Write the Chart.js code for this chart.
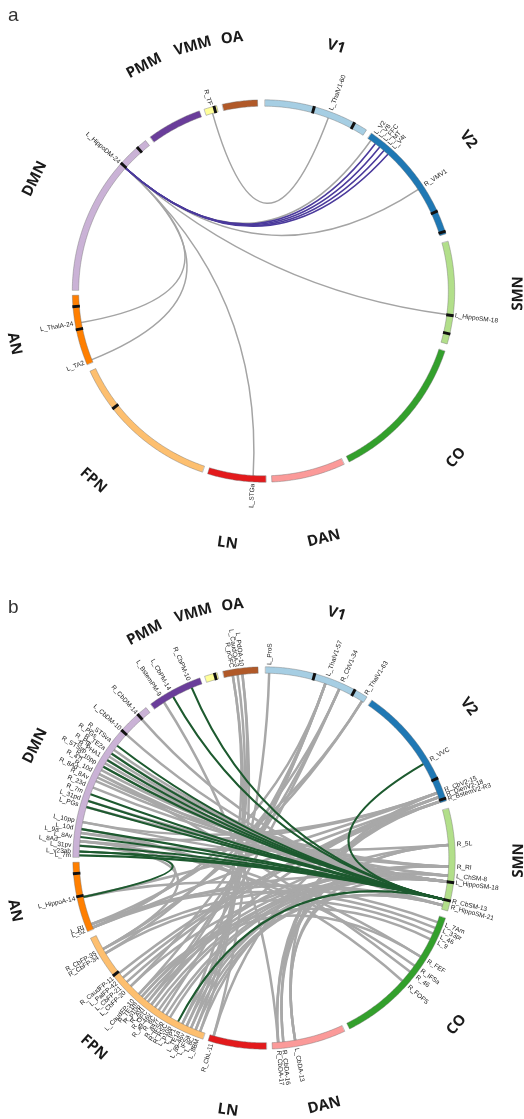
<!DOCTYPE html>
<html><head><meta charset="utf-8">
<script src="https://cdn.jsdelivr.net/npm/chart.js@4.4.1/dist/chart.umd.min.js"></script>
<style>
html,body{margin:0;padding:0;background:#fff;}
#wrap{position:relative;width:524px;height:1119px;overflow:hidden;}
canvas{position:absolute;left:0;}
</style></head><body>
<div id="wrap">
<canvas id="ca" width="524" height="560" style="top:0px"></canvas>
<canvas id="cb" width="524" height="559" style="top:560px"></canvas>
</div>
<script>
// ---------- DATA ----------
const NETWORKS  = ['V1','V2','SMN','CO','DAN','LN','FPN','AN','DMN','PMM','VMM','OA'];
const NET_START = [0.5, 34.4, 75.0, 108.4, 155.1, 179.3, 198.7, 247.4, 270.3, 323.7, 342.0, 347.6];
const NET_END   = [32.6, 72.6, 106.1, 153.4, 177.5, 197.0, 245.2, 268.7, 321.9, 340.4, 345.8, 358.2];
const MARKER_ANGLES = [15.4, 28.4, 65.3, 71.8, 97.4, 103.0, 232.0, 258.3, 265.3, 311.9, 318.7, 345.0];

// panel a
const A_NODES  = ['L_HippoDM-24','R_TF','L_ThalV1-60','L_V2','L_V8','L_FFC','L_MT','L_V4t','R_VMV1','L_HippoSM-18','L_STGa','L_ThalA-24','L_TA2'];
const A_ANGLES = [311.7, 344.0, 20.5, 35.5, 37.2, 38.9, 40.6, 42.3, 56.7, 97.3, 183.2, 260.2, 248.2];
const A_LINKS_GRAY = [
  ['R_TF','L_ThalV1-60'],['L_HippoDM-24','L_V2'],
  ['L_HippoDM-24','R_VMV1'],['L_HippoDM-24','L_HippoSM-18'],['L_HippoDM-24','L_STGa'],
  ['L_HippoDM-24','L_ThalA-24'],['L_HippoDM-24','L_TA2']];
const A_LINKS_HL = [['L_HippoDM-24','L_V8'],['L_HippoDM-24','L_FFC'],['L_HippoDM-24','L_MT'],['L_HippoDM-24','L_V4t']];

// panel b
const B_NODES = [
 'R_pOFC','L_CaudOA-3','L_PdOA-10',
 'L_BstemPM-9','L_CbPM-14','R_CbPM-10',
 'L_ProS','L_ThalV1-57','R_CbV1-34','R_ThalV1-63',
 'R_VVC','R_CbV2-15','R_DienV2-18','R_BstemV2-R3',
 'R_5L','R_RI','L_ChSM-8','L_HippoSM-18','R_CbSM-13','R_HippoSM-21',
 'L_7Am','L_33pr','L_46','L_9','R_FEF','R_IFSa','R_46','R_FOP5',
 'L_CbDA-13','R_CbDA-16','R_CbDA-17',
 'R_CbL-11',
 'L_8BM','L_8C','L_IFSa','L_a9-46v','L_TE1a','L_IP1','L_p10p','R_RSC','R_IFSp','R_a47r','R_8C','R_a9-46v','R_OFC','R_AVI','R_p10p','R_TE1m','L_CaudFP-10','L_CbFP-20','L_CbFP-21','L_PalFP-42','R_CaudFP-11','R_CbFP-34','R_CbFP-35',
 'L_52','L_RI','L_HippoA-14',
 'L_7m','L_v23ab','L_31pv','L_8Ad','L_8Av','L_9a','L_10d','L_10pp','L_PGs','L_31pd','R_7m','R_23d','R_8Av','R_8Ad','R_10d','R_47l','R_10pp','R_STSvp','R_PHA1','R_Pgi','R_TE2a','R_PGs','R_STSva','L_CbDM-10','R_CbDM-14'];
const B_ANGLES = [
 350.3, 351.8, 353.3,
 327.3, 330.6, 337.0,
 1.6, 19.4, 24.0, 32.0,
 59.5, 69.4, 70.8, 72.2,
 86.0, 92.7, 95.5, 97.4, 103.0, 104.8,
 110.3, 112.2, 114.1, 116.0, 122.2, 125.6, 127.9, 131.6,
 170.3, 174.0, 175.6,
 195.8,
 200.2, 201.7, 203.2, 204.7, 206.2, 207.7, 209.1, 210.5, 211.9, 213.3, 214.7, 216.1, 217.5, 218.9, 220.2, 221.4, 222.6, 226.1, 227.9, 229.7, 231.5, 239.0, 240.5,
 247.9, 249.0, 257.8,
 270.8, 272.0, 273.8, 275.2, 276.5, 277.8, 279.0, 281.2, 286.0, 288.0, 290.2, 292.4, 294.6, 295.8, 297.0, 298.4, 299.6, 300.8, 302.0, 303.2, 304.4, 305.8, 307.4, 311.9, 318.6];
const B_LINKS_HL = [
 ['R_CbSM-13','R_VVC'],['R_CbSM-13','L_CbPM-14'],['R_CbSM-13','R_CbPM-10'],
 ['R_CbSM-13','R_STSva'],['R_CbSM-13','R_TE2a'],['R_CbSM-13','R_PHA1'],['R_CbSM-13','R_10pp'],
 ['R_CbSM-13','L_PGs'],['R_CbSM-13','L_31pd'],['R_CbSM-13','R_7m'],['R_CbSM-13','L_10d'],
 ['R_CbSM-13','L_8Av'],['R_CbSM-13','L_31pv'],['R_CbSM-13','L_v23ab'],['R_CbSM-13','L_7m'],
 ['R_CbSM-13','L_IP1'],['L_HippoA-14','L_v23ab']];
const B_LINKS_GRAY = [
 ['R_pOFC','L_8BM'],['L_CaudOA-3','L_8C'],['L_PdOA-10','R_CbL-11'],['L_PdOA-10','L_IFSa'],['R_pOFC','L_TE1a'],
 ['L_BstemPM-9','R_CbDA-17'],['L_ProS','L_a9-46v'],
 ['L_ThalV1-57','R_AVI'],['L_ThalV1-57','R_OFC'],['L_ThalV1-57','L_CbFP-20'],['L_ThalV1-57','L_52'],
 ['R_CbV1-34','R_CbFP-34'],['R_CbV1-34','L_CaudFP-10'],['R_CbV1-34','R_a47r'],
 ['R_ThalV1-63','L_RI'],['R_ThalV1-63','R_CbFP-35'],
 ['R_CbV2-15','L_10pp'],['R_CbV2-15','L_9a'],['R_CbV2-15','L_HippoA-14'],['R_CbV2-15','L_CbDA-13'],
 ['R_DienV2-18','L_52'],['R_DienV2-18','L_PalFP-42'],['R_DienV2-18','R_CbDA-16'],
 ['R_BstemV2-R3','L_CbFP-21'],['R_BstemV2-R3','R_CbL-11'],['R_BstemV2-R3','R_CaudFP-11'],
 ['R_5L','L_8Ad'],['R_5L','R_CbDA-17'],['R_5L','R_TE1m'],
 ['R_RI','R_p10p'],['R_RI','R_a9-46v'],['R_RI','L_8BM'],['R_RI','R_8Ad'],['R_RI','L_CbDA-13'],['R_RI','R_PHA1'],['R_RI','L_PGs'],
 ['L_ChSM-8','R_8C'],['L_ChSM-8','R_IFSp'],['L_ChSM-8','L_CbFP-20'],['L_ChSM-8','R_23d'],['L_ChSM-8','R_10pp'],
 ['L_HippoSM-18','R_47l'],['L_HippoSM-18','R_STSvp'],['L_HippoSM-18','R_Pgi'],['L_HippoSM-18','R_PGs'],
 ['L_HippoSM-18','R_8Av'],['L_HippoSM-18','L_10pp'],['L_HippoSM-18','R_RSC'],['L_HippoSM-18','L_TE1a'],
 ['L_HippoSM-18','L_a9-46v'],['L_HippoSM-18','R_AVI'],['L_HippoSM-18','L_52'],['L_HippoSM-18','L_CbDA-13'],
 ['L_HippoSM-18','R_TE2a'],['L_HippoSM-18','L_31pd'],
 ['R_HippoSM-21','R_10d'],['R_HippoSM-21','L_IFSa'],['R_HippoSM-21','L_8C'],['R_HippoSM-21','L_RI'],['R_HippoSM-21','R_CbFP-35'],
 ['R_CbSM-13','L_CbDM-10'],['R_CbSM-13','R_CbDM-14'],
 ['L_7Am','L_HippoA-14'],['L_33pr','L_RI'],['L_46','R_CbFP-34'],['L_9','L_CaudFP-10'],
 ['R_FEF','L_9a'],['R_IFSa','L_8Ad'],['R_46','R_10d'],['R_FOP5','L_10d'],['R_FEF','R_TE1m'],
 ['L_8Ad','L_52'],['L_31pv','R_CbFP-35'],['R_CbDA-17','R_BstemV2-R3'],['R_CbDA-16','R_5L'],['R_OFC','R_DienV2-18']];
const B_OUTER_LABELS = ['L_8Ad','L_9a','R_8Ad','R_47l','R_STSvp','R_Pgi','R_PGs'];

// ---------- STYLE ----------
const NET_COLORS = ['#a6cee3','#1f78b4','#b2df8a','#33a02c','#fb9a99','#e31a1c','#fdbf6f','#ff7f00','#cab2d6','#6a3d9a','#ffff99','#b15928'];
const PANELS = {
  ca: {letter:'a', letterY:21, cx:263.5, cy:291, r:188, W:524, H:560,
       nodes:A_NODES, angles:A_ANGLES, gray:A_LINKS_GRAY, hl:A_LINKS_HL, outer:[],
       grayColor:'#a4a4a4', hlColor:'#4b3a9c', grayWidth:1.5, hlWidth:1.6},
  cb: {letter:'b', letterY:53, cx:264, cy:298, r:188, W:524, H:559,
       nodes:B_NODES, angles:B_ANGLES, gray:B_LINKS_GRAY, hl:B_LINKS_HL, outer:B_OUTER_LABELS,
       grayColor:'#a8a8a8', hlColor:'#1d5a2f', grayWidth:2.5, hlWidth:2.1}
};
const R_IN = 0.983, R_OUT = 1.017;

function rad(d){return d*Math.PI/180;}

const chordPlugin = {
  id:'chord',
  afterDatasetsDraw(chart){
    const P = PANELS[chart.canvas.id];
    const ctx = chart.ctx, xs = chart.scales.x, ys = chart.scales.y;
    const pt = (deg,r)=>[xs.getPixelForValue(r*Math.sin(rad(deg))), ys.getPixelForValue(r*Math.cos(rad(deg)))];
    const angOf = {}; P.nodes.forEach((n,i)=>angOf[n]=P.angles[i]);
    const c = pt(0,0);
    ctx.save();
    ctx.lineCap='round';
    function link(a,b){
      const p0 = pt(angOf[a],R_IN), p2 = pt(angOf[b],R_IN);
      ctx.beginPath(); ctx.moveTo(p0[0],p0[1]); ctx.quadraticCurveTo(c[0],c[1],p2[0],p2[1]); ctx.stroke();
    }
    ctx.strokeStyle=P.grayColor; ctx.lineWidth=P.grayWidth;
    P.gray.forEach(l=>link(l[0],l[1]));
    ctx.strokeStyle=P.hlColor; ctx.lineWidth=P.hlWidth;
    P.hl.forEach(l=>link(l[0],l[1]));
    // arcs
    NETWORKS.forEach((nm,i)=>{
      const s=NET_START[i], e=NET_END[i], n=Math.max(4,Math.round((e-s)*2));
      ctx.beginPath();
      for(let k=0;k<=n;k++){const q=pt(s+(e-s)*k/n,R_OUT); k?ctx.lineTo(q[0],q[1]):ctx.moveTo(q[0],q[1]);}
      for(let k=n;k>=0;k--){const q=pt(s+(e-s)*k/n,R_IN); ctx.lineTo(q[0],q[1]);}
      ctx.closePath();
      ctx.fillStyle=NET_COLORS[i]; ctx.fill();
      ctx.strokeStyle='rgba(110,110,110,0.7)'; ctx.lineWidth=0.6; ctx.stroke();
    });
    // markers
    ctx.fillStyle='#111';
    MARKER_ANGLES.forEach(m=>{
      const a=pt(m-0.45,R_OUT+0.003),b=pt(m+0.45,R_OUT+0.003),d=pt(m+0.45,R_IN-0.003),e=pt(m-0.45,R_IN-0.003);
      ctx.beginPath();ctx.moveTo(a[0],a[1]);ctx.lineTo(b[0],b[1]);ctx.lineTo(d[0],d[1]);ctx.lineTo(e[0],e[1]);ctx.closePath();ctx.fill();
    });
    // node labels
    ctx.font='6.5px "Liberation Sans", Arial, sans-serif';
    ctx.fillStyle='#1a1a1a'; ctx.textBaseline='middle';
    P.nodes.forEach((nm,i)=>{
      const d=P.angles[i], off=P.outer.includes(nm)?0.075:0;
      const q=pt(d,1.027+off);
      ctx.save(); ctx.translate(q[0],q[1]);
      if(d<180){ctx.rotate(rad(d-90)); ctx.textAlign='left';}
      else {ctx.rotate(rad(d-270)); ctx.textAlign='right';}
      ctx.fillText(nm,0,0); ctx.restore();
    });
    // network labels
    ctx.font='bold 15px "Open Sans", "DejaVu Sans", sans-serif';
    ctx.fillStyle='#1a1a1a'; ctx.textAlign='center';
    NETWORKS.forEach((nm,i)=>{
      const d=(NET_START[i]+NET_END[i])/2;
      const q=pt(d,1.355);
      let rot = (d>90 && d<270) ? d-180 : (d>=270 ? d-360 : d);
      ctx.save(); ctx.translate(q[0],q[1]); ctx.rotate(rad(rot)); ctx.fillText(nm,0,0); ctx.restore();
    });
    // panel letter
    ctx.font='19px "Liberation Sans", Arial, sans-serif';
    ctx.fillStyle='#333'; ctx.textAlign='left'; ctx.textBaseline='alphabetic';
    ctx.fillText(P.letter,8,P.letterY);
    ctx.restore();
  }
};

function makeChart(id){
  const P = PANELS[id];
  const pts = P.nodes.map((n,i)=>({x:Math.sin(rad(P.angles[i])), y:Math.cos(rad(P.angles[i]))}));
  new Chart(document.getElementById(id), {
    type:'scatter',
    data:{datasets:[{data:pts, pointRadius:0, showLine:false}]},
    options:{
      responsive:false, animation:false, devicePixelRatio:1,
      layout:{padding:0},
      plugins:{legend:{display:false}, tooltip:{enabled:false}, title:{display:false}},
      scales:{
        x:{type:'linear', display:false, min:-P.cx/P.r, max:(P.W-P.cx)/P.r},
        y:{type:'linear', display:false, min:-(P.H-P.cy)/P.r, max:P.cy/P.r}
      }
    },
    plugins:[chordPlugin]
  });
}
makeChart('ca'); makeChart('cb');
</script>
</body></html>
